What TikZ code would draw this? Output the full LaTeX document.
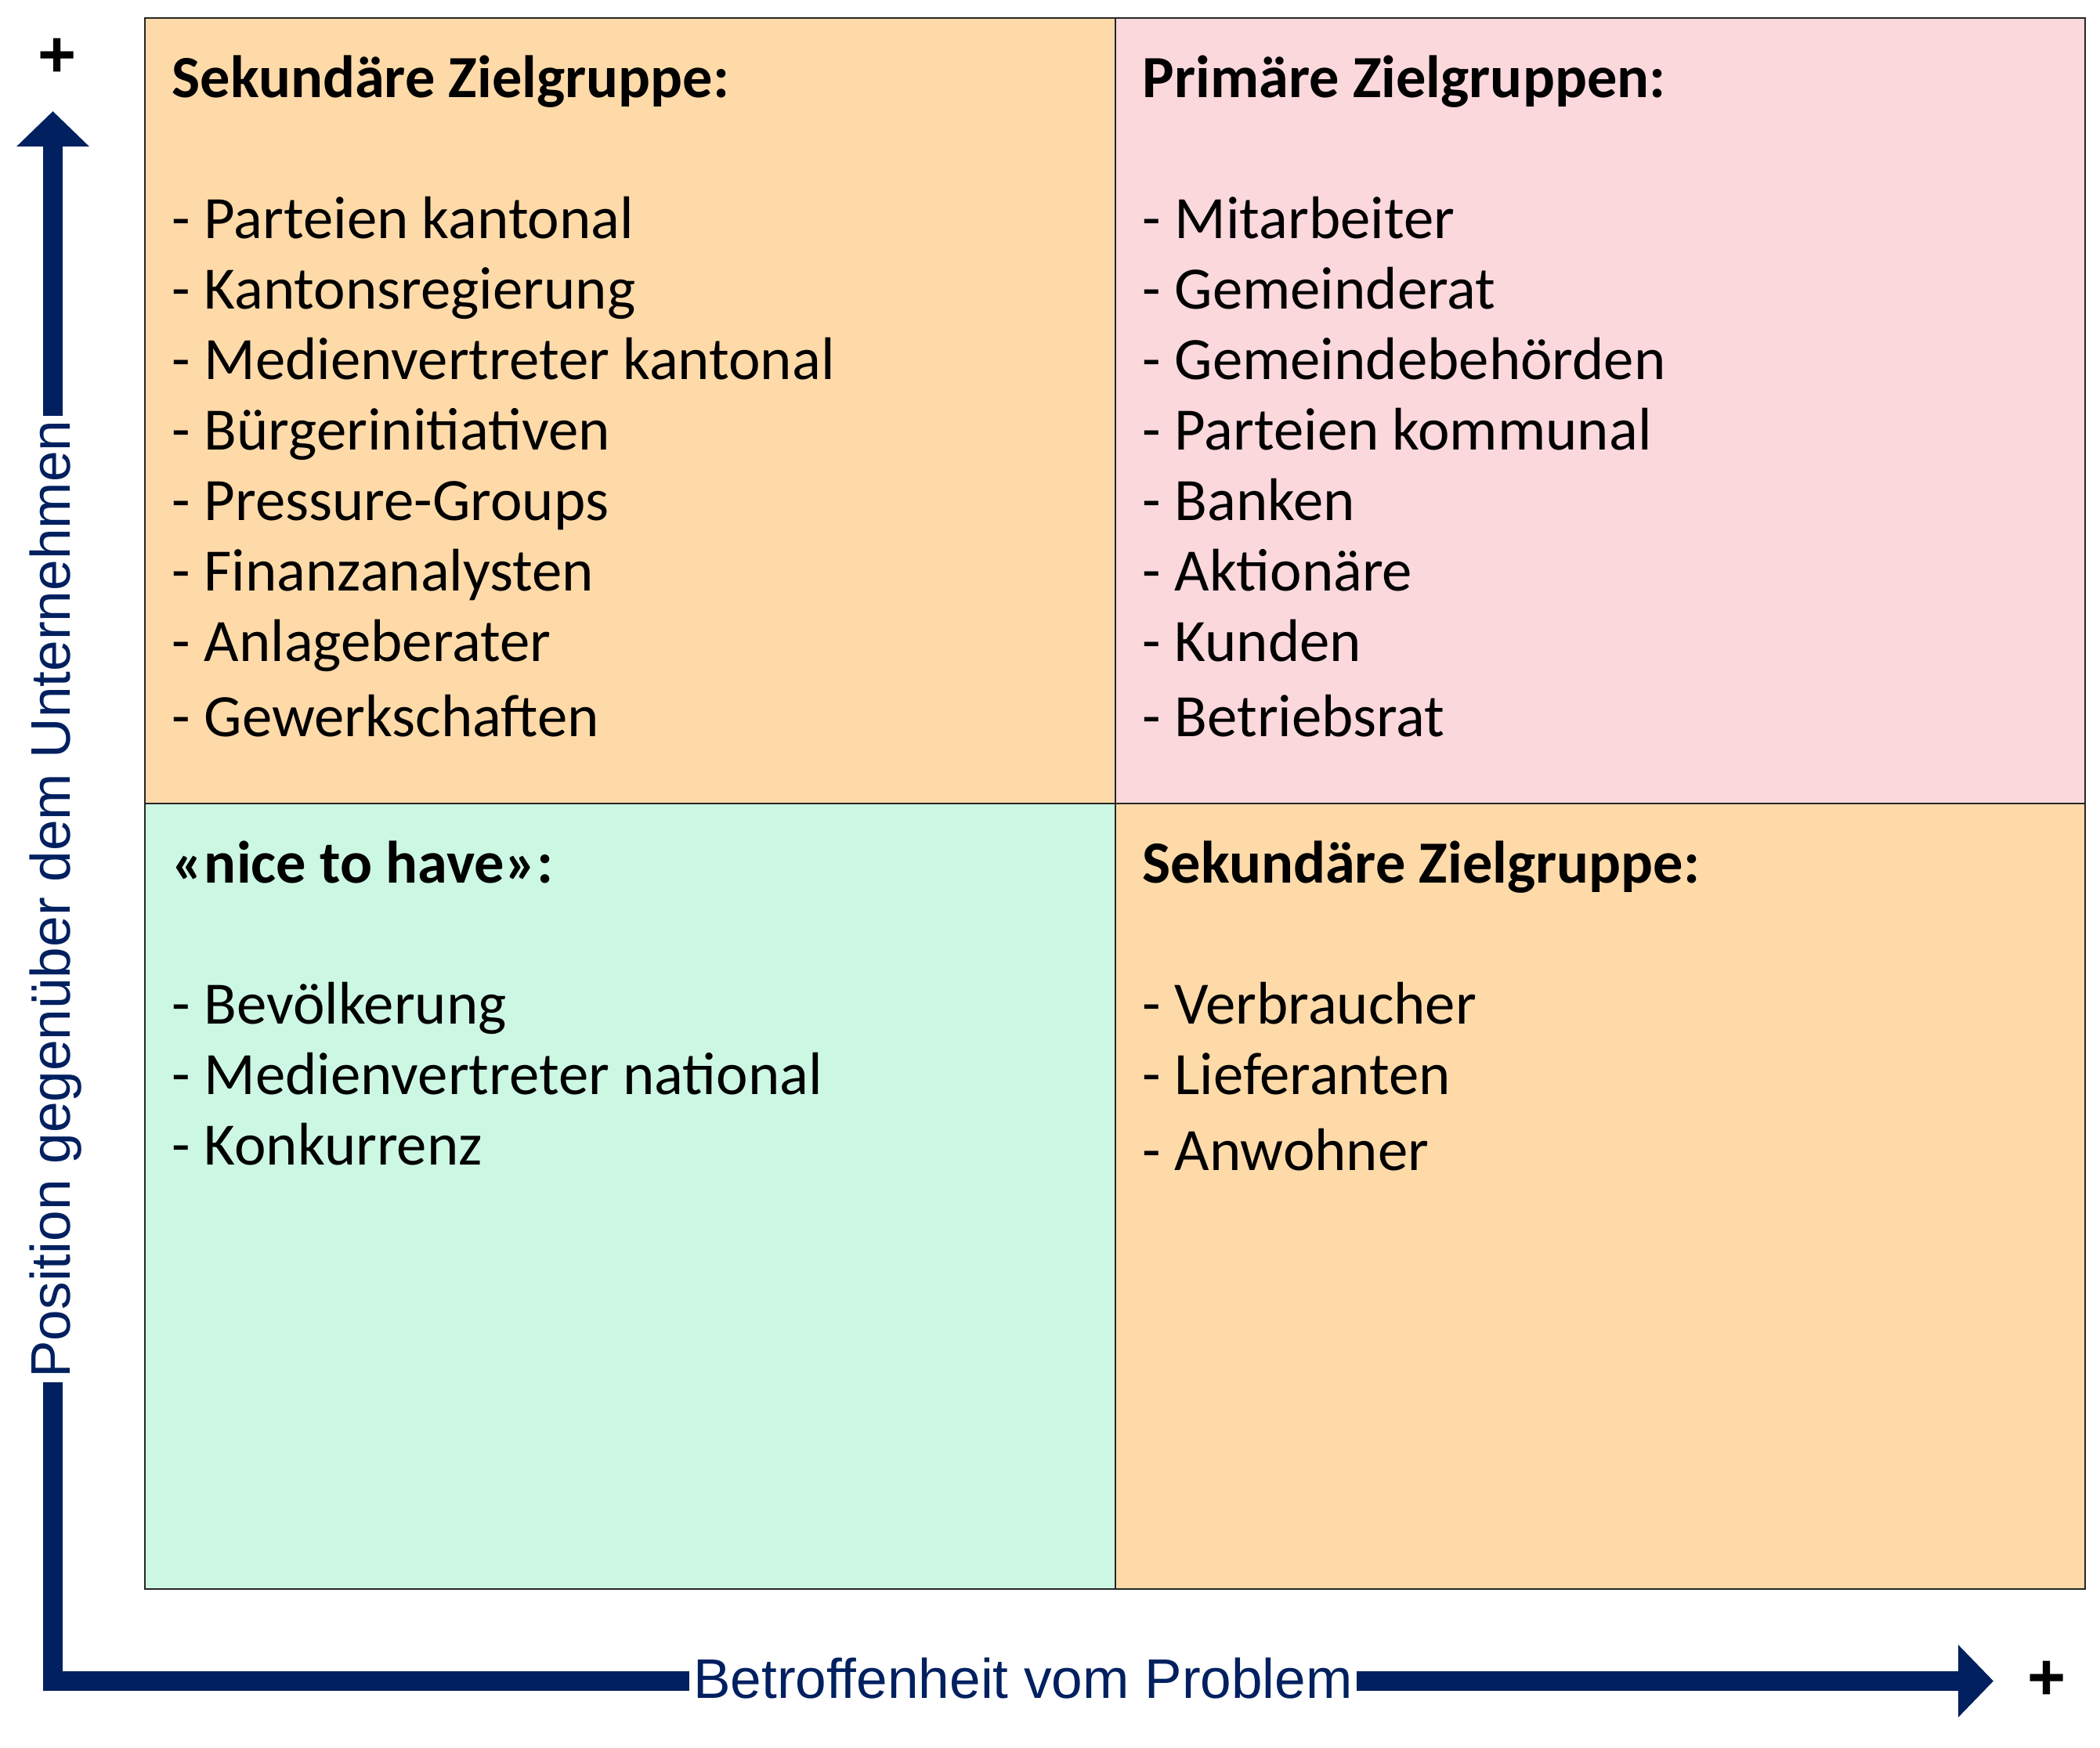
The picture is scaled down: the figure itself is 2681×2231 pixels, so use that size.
\documentclass[tikz,border=0pt]{standalone}
\usepackage{fontspec}
\setmainfont{Carlito}
\newfontfamily\axisfont{Liberation Sans}
\usetikzlibrary{arrows.meta}
\definecolor{peach}{HTML}{FFDAA9}
\definecolor{rosa}{HTML}{FAD8DC}
\definecolor{mint}{HTML}{CCF8E3}
\definecolor{navy}{HTML}{002060}
\tikzset{
  head/.style={anchor=base west, inner sep=0pt, font=\bfseries\fontsize{19.1}{22}\selectfont},
  item/.style={anchor=base west, inner sep=0pt, font=\fontsize{19.2}{22}\selectfont},
  axislabel/.style={anchor=base, text=navy, fill=white, inner xsep=1.25pt, inner ysep=1.5pt,
    font=\axisfont\fontsize{17.8}{20}\selectfont},
  plussign/.style={inner sep=0pt, font=\axisfont\bfseries\fontsize{21}{24}\selectfont},
  axisarrow/.style={draw=navy, line width=6.25pt, line join=miter,
    {Triangle[length=11.25pt,width=22.5pt]}-{Triangle[length=11.25pt,width=22.5pt]}},
  quadline/.style={draw=black!85, line width=0.6pt}
}
\begin{document}
\begin{tikzpicture}[x=0.25pt, y=-0.25pt]
\useasboundingbox (0,0) rectangle (2681,2231);
% quadrants
\fill[peach] (185,23) rectangle (1424,1026);
\fill[rosa] (1424,23) rectangle (2662,1026);
\fill[mint] (185,1026) rectangle (1424,2029);
\fill[peach] (1424,1026) rectangle (2662,2029);
\draw[quadline] (185,23) rectangle (2662,2029);
\draw[quadline] (1424,23) -- (1424,2029);
\draw[quadline] (185,1026) -- (2662,1026);
% axes
\coordinate (ytip) at (67.5,142);
\coordinate (corner) at (67.5,2146.5);
\coordinate (xtip) at (2545,2146.5);
\draw[axisarrow] (ytip) -- (corner) -- (xtip);
\node[axislabel] (xlabel) at (1306,2168) {Betroffenheit vom Problem};
\node[axislabel, rotate=90] (ylabel) at (90,1148) {Position gegenüber dem Unternehmen};
\node[plussign] (yplus) at (73,74) {+};
\node[plussign] (xplus) at (2613,2146) {+};
% top left
\node[head] (tl0) at (219,124) {Sekundäre Zielgruppe:};
\foreach \y/\t [count=\i] in {304/Parteien kantonal, 394/Kantonsregierung, 484/Medienvertreter kantonal,
  574/Bürgerinitiativen, 664/Pressure-Groups, 754/Finanzanalysten, 844/Anlageberater, 940/Gewerkschaften}
  \node[item] (tl\i) at (219,\y) {- \t};
% top right
\node[head] (tr0) at (1458,124) {Primäre Zielgruppen:};
\foreach \y/\t [count=\i] in {304/Mitarbeiter, 394/Gemeinderat, 484/Gemeindebehörden,
  574/Parteien kommunal, 664/Banken, 754/Aktionäre, 844/Kunden, 940/Betriebsrat}
  \node[item] (tr\i) at (1458,\y) {- \t};
% bottom left
\node[head] (bl0) at (219,1127) {«nice to have»:};
\foreach \y/\t [count=\i] in {1307/Bevölkerung, 1397/Medienvertreter national, 1487/Konkurrenz}
  \node[item] (bl\i) at (219,\y) {- \t};
% bottom right
\node[head] (br0) at (1458,1127) {Sekundäre Zielgruppe:};
\foreach \y/\t [count=\i] in {1307/Verbraucher, 1397/Lieferanten, 1494/Anwohner}
  \node[item] (br\i) at (1458,\y) {- \t};
\end{tikzpicture}
\end{document}
